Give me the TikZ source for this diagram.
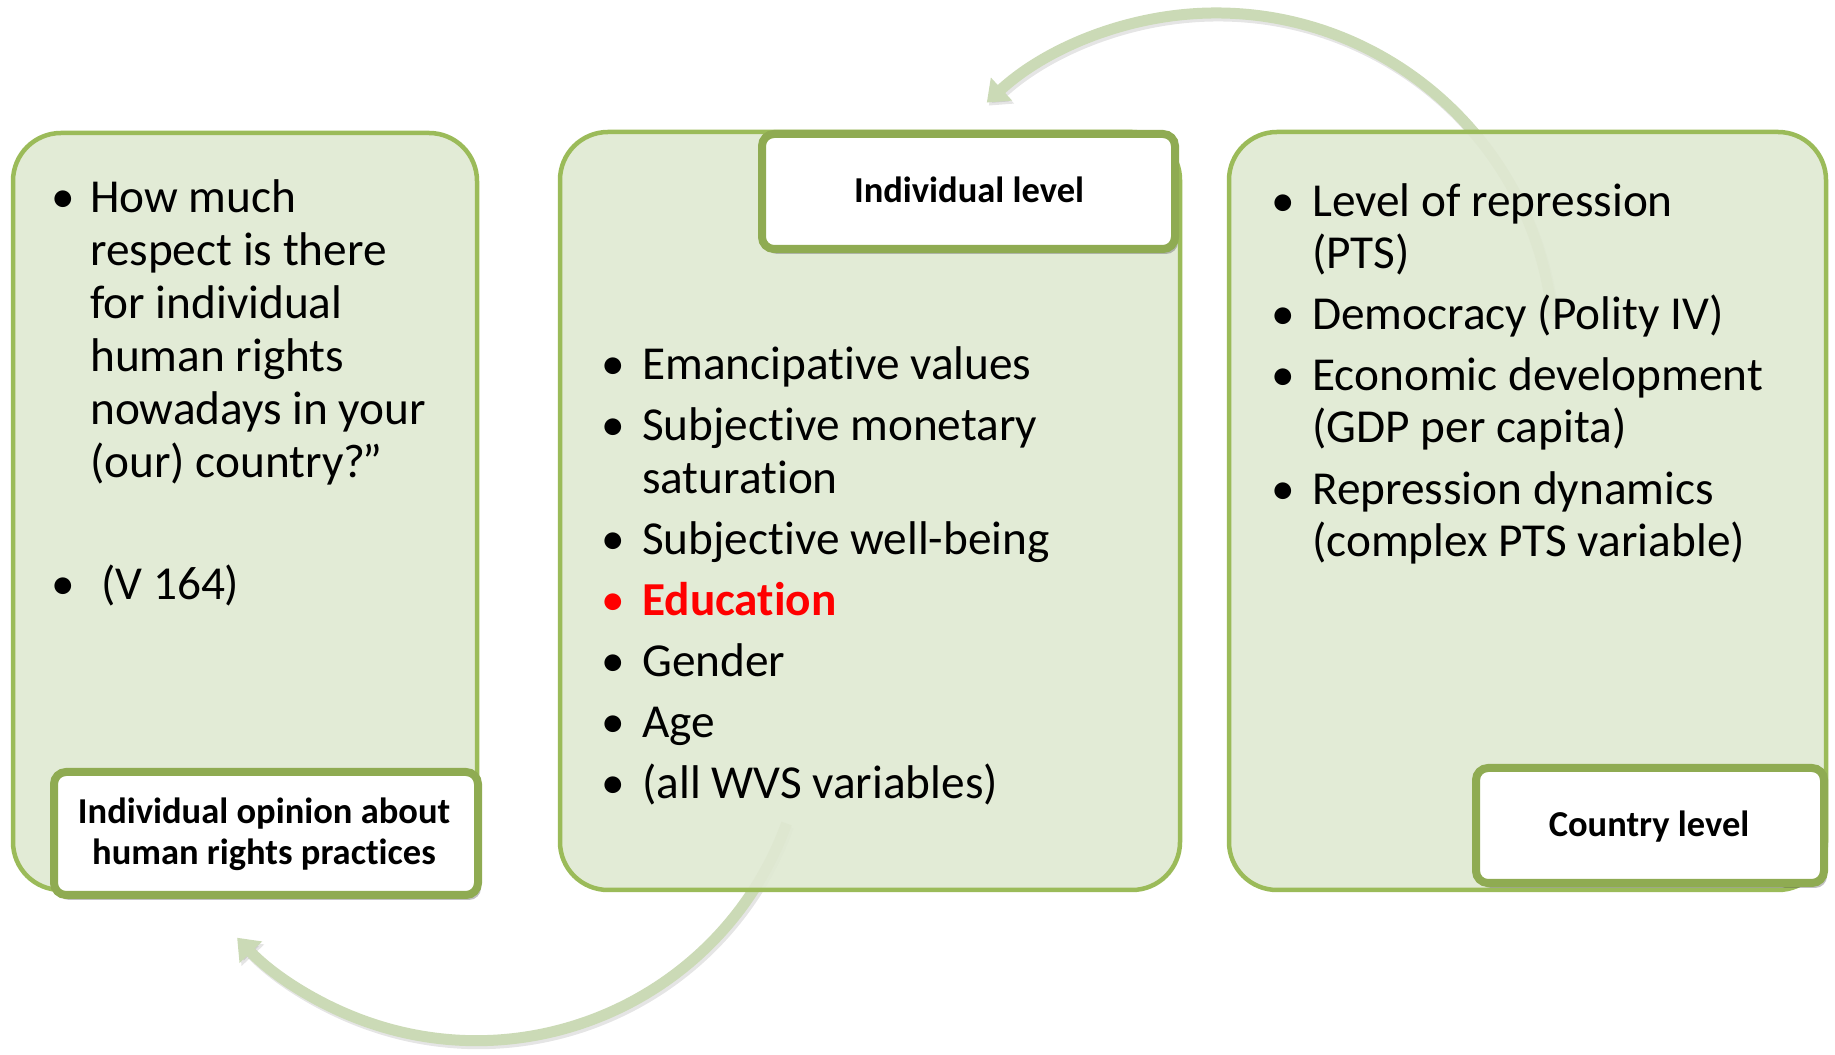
\documentclass[tikz,border=0pt]{standalone}
\usepackage{fontspec}
\setmainfont[Ligatures=NoCommon]{Carlito}
\usetikzlibrary{arrows.meta,shadows}
\definecolor{boxfill}{HTML}{E0E9D3}
\definecolor{boxline}{HTML}{9BBB59}
\definecolor{labline}{HTML}{8FAB52}
\definecolor{arrowgreen}{HTML}{CBDAB6}
\definecolor{hilite}{HTML}{FF0000}

\begin{document}
\begin{tikzpicture}[x=1pt,y=1pt,
  panel/.style={draw=boxline, line width=4.5pt, fill=boxfill, fill opacity=0.92,
    rounded corners=48pt, inner sep=0pt, outer sep=0pt},
  tag/.style={draw=labline, line width=8pt, fill=white, rounded corners=12pt,
    inner sep=0pt, outer sep=0pt,
    drop shadow={shadow xshift=3pt, shadow yshift=-5pt, opacity=0.35, fill=black!70}},
  tagtext/.style={font=\bfseries\fontsize{36.5}{38}\selectfont, inner sep=0pt, anchor=base},
  body/.style={font=\fontsize{47.3}{53}\selectfont, inner sep=0pt, anchor=base west},
  dot/.style={font=\fontsize{47.3}{53}\selectfont, inner sep=0pt, anchor=base},
  looparrow/.style={draw=arrowgreen, line width=11pt, -{Triangle[width=30pt,length=20pt]}},
  loopshade/.style={draw=black, draw opacity=0.10, fill opacity=0.10, line width=11pt,
    -{Triangle[width=30pt,length=20pt]}, transform canvas={shift={(2pt,-3pt)}}}
]
\useasboundingbox (0,0) rectangle (1835,1054);

% feedback arrows (behind the panels)
\coordinate (cu) at (1216,703);
\coordinate (cl) at (476.5,343.4);
\coordinate (us) at ([shift={(6:338)}]cu);
\coordinate (ls) at ([shift={(-20:330)}]cl);
\draw[loopshade] (us) arc[start angle=6, end angle=132.7, radius=338];
\draw[loopshade] (ls) arc[start angle=-20, end angle=-136.5, radius=330];
\draw[looparrow] (us) arc[start angle=6, end angle=132.7, radius=338];
\draw[looparrow] (ls) arc[start angle=-20, end angle=-136.5, radius=330];

% panels
\node[panel, minimum width=464pt, minimum height=757pt] (left) at (245,542.5) {};
\node[panel, minimum width=620pt, minimum height=758pt] (mid) at (870,543) {};
\node[panel, minimum width=597pt, minimum height=758pt] (right) at (1527.5,543) {};

% level tags
\node[tag, minimum width=424pt, minimum height=123pt] (lefttag) at (266,220.5) {};
\node[tag, minimum width=413pt, minimum height=115pt] (midtag) at (968.5,862.5) {};
\node[tag, minimum width=348pt, minimum height=115pt] (righttag) at (1650,228.5) {};

\node[tagtext] (lefttagA) at (264,230) {Individual opinion about};
\node[tagtext] (lefttagB) at (264,189) {human rights practices};
\node[tagtext] (midtagA) at (969,851) {Individual level};
\node[tagtext] (righttagA) at (1649,217) {Country level};

% left panel
\node[dot] (lb1) at (63,841) {\textbullet};
\node[body] (l1) at (90,841) {How much};
\node[body] (l2) at (90,788) {respect is there};
\node[body] (l3) at (90,735) {for individual};
\node[body] (l4) at (90,682) {human rights};
\node[body] (l5) at (90,629) {nowadays in your};
\node[body] (l6) at (90,576) {(our) country?\kern-3pt”};
\node[dot] (lb2) at (63,454) {\textbullet};
\node[body] (l7) at (101,454) {(V 164)};

% middle panel
\node[dot] (mb1) at (613,674) {\textbullet};
\node[body] (m1) at (642,674) {Emancipative values};
\node[dot] (mb2) at (613,613) {\textbullet};
\node[body] (m2) at (642,613) {Subjective monetary};
\node[body] (m3) at (642,560) {saturation};
\node[dot] (mb3) at (613,499) {\textbullet};
\node[body] (m4) at (642,499) {Subjective well-being};
\node[dot, text=hilite] (mb4) at (613,438) {\textbullet};
\node[body, text=hilite, font=\bfseries\fontsize{47.3}{53}\selectfont] (m5) at (642,438) {Education};
\node[dot] (mb5) at (613,377) {\textbullet};
\node[body] (m6) at (642,377) {Gender};
\node[dot] (mb6) at (613,316) {\textbullet};
\node[body] (m7) at (642,316) {Age};
\node[dot] (mb7) at (613,255) {\textbullet};
\node[body] (m8) at (642,255) {(all WVS variables)};

% right panel
\node[dot] (rb1) at (1283,837) {\textbullet};
\node[body] (r1) at (1312,837) {Level of repression};
\node[body] (r2) at (1312,785) {(PTS)};
\node[dot] (rb2) at (1283,724) {\textbullet};
\node[body] (r3) at (1312,724) {Democracy (Polity IV)};
\node[dot] (rb3) at (1283,663) {\textbullet};
\node[body] (r4) at (1312,663) {Economic development};
\node[body] (r5) at (1312,611) {(GDP per capita)};
\node[dot] (rb4) at (1283,549) {\textbullet};
\node[body] (r6) at (1312,549) {Repression dynamics};
\node[body] (r7) at (1312,497) {(complex PTS variable)};
\end{tikzpicture}
\end{document}
